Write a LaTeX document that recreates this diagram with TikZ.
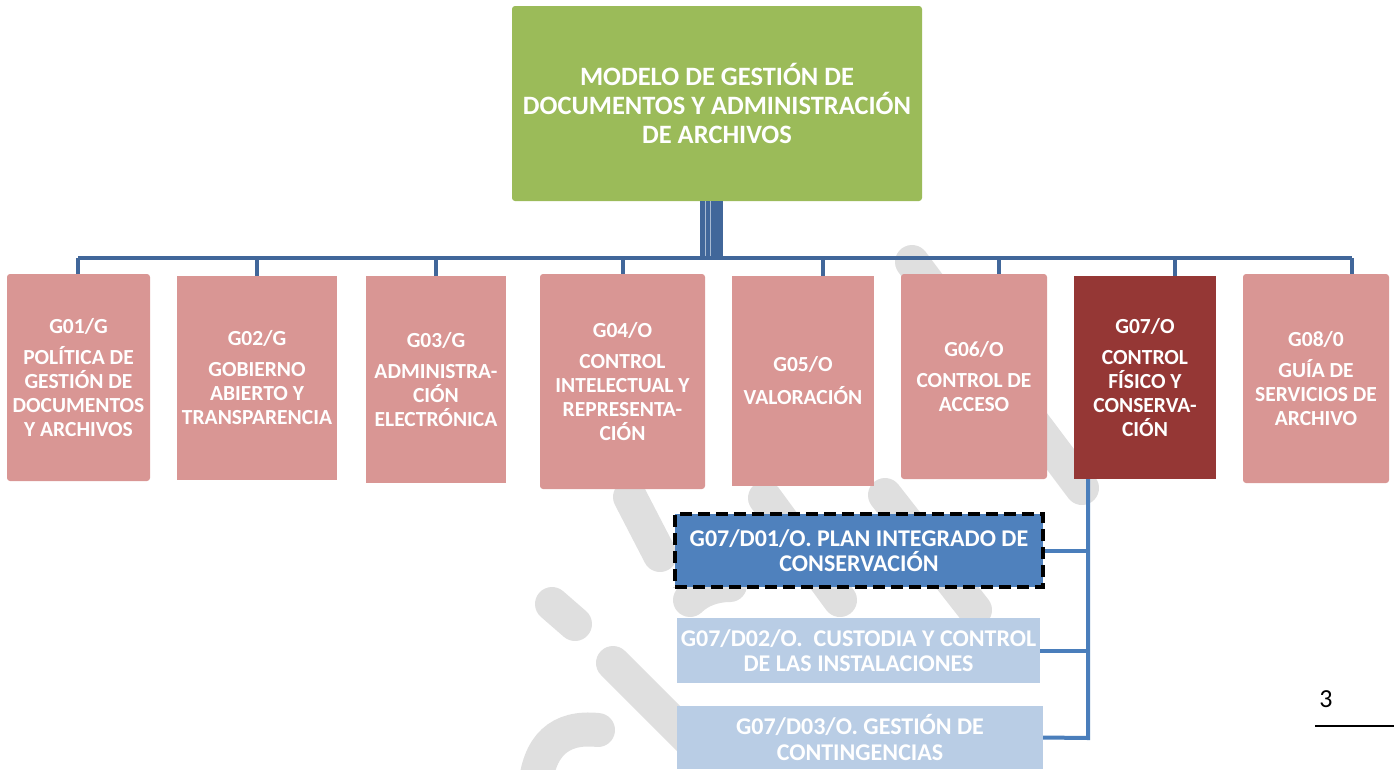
\documentclass[tikz,border=0pt]{standalone}
\usepackage{fontspec}
\setmainfont{Carlito}
\usepackage{tikz}
\usetikzlibrary{positioning}
\definecolor{pinkbox}{HTML}{D99694}
\definecolor{darkred}{HTML}{953735}
\definecolor{topgreen}{HTML}{9BBB59}
\definecolor{subblue}{HTML}{4F81BD}
\definecolor{paleblue}{HTML}{B9CDE5}
\definecolor{trunkblue}{HTML}{41679A}
\definecolor{branchblue}{HTML}{4A7EBB}
\definecolor{wmgray}{HTML}{DFDFDF}
\newcommand{\topfont}{\fontsize{26.5}{29}\selectfont\bfseries}
\newcommand{\gfont}{\fontsize{21.5}{24}\selectfont\bfseries}
\newcommand{\dfont}{\fontsize{24}{25.5}\selectfont\bfseries}
\tikzstyle{topbox} = [rectangle, rounded corners=3pt, fill=topgreen, text=white, font=\topfont, align=center, inner sep=0pt]
\tikzstyle{gbox} = [rectangle, fill=pinkbox, text=white, font=\gfont, align=center, inner sep=0pt]
\tikzstyle{gsel} = [rectangle, fill=darkred, text=white, font=\gfont, align=center, inner sep=0pt]
\tikzstyle{dsel} = [rectangle, fill=subblue, draw=black, line width=4pt, dash pattern=on 12pt off 6pt, text=white, font=\dfont, align=center, inner sep=0pt]
\tikzstyle{dbox} = [rectangle, fill=paleblue, text=white, font=\dfont, align=center, inner sep=0pt]
\tikzstyle{link} = [draw=trunkblue, line width=4pt]
\tikzstyle{sublink} = [draw=branchblue, line width=4pt]
\tikzstyle{wmstroke} = [draw=wmgray, line width=34pt, line cap=round]

\begin{document}
\begin{tikzpicture}[x=1pt, y=-1pt]
        \useasboundingbox (0,0) rectangle (1394,769);
        % watermark
        \draw [wmstroke] (912,262) -- (1082,488);
        \draw [wmstroke] (630,497) -- (660,555);
        \draw [wmstroke] (552,604) -- (575,624);
        \draw [wmstroke] (613,663) -- (700,750);
        \draw [wmstroke] (598,730) .. controls (560,726) and (538,745) .. (535,790);
        \draw [wmstroke] (690,600) .. controls (700,590) and (715,585) .. (730,585);
        \draw [wmstroke] (765,498) -- (840,600);
        \draw [wmstroke] (885,495) -- (975,610);

        \node (top) [topbox, minimum width=410pt, minimum height=195pt] at (717,103.5)
              {MODELO DE GESTIÓN DE\\DOCUMENTOS Y ADMINISTRACIÓN\\DE ARCHIVOS};

        \node (g01) [gbox, rounded corners=3pt, minimum width=143pt, minimum height=207pt] at (78.5,377.5)
              {G01/G\\[7pt]POLÍTICA DE\\GESTIÓN DE\\DOCUMENTOS\\Y ARCHIVOS};
        \node (g02) [gbox, minimum width=160pt, minimum height=204pt] at (257,378)
              {G02/G\\[7pt]GOBIERNO\\ABIERTO Y\\TRANSPARENCIA};
        \node (g03) [gbox, minimum width=140pt, minimum height=207pt] at (436,379.5)
              {G03/G\\[7pt]ADMINISTRA-\\CIÓN\\ELECTRÓNICA};
        \node (g04) [gbox, rounded corners=3pt, minimum width=165pt, minimum height=215pt] at (622.5,381.5)
              {G04/O\\[7pt]CONTROL\\INTELECTUAL Y\\REPRESENTA-\\CIÓN};
        \node (g05) [gbox, minimum width=142pt, minimum height=210pt] at (803,381)
              {G05/O\\[9pt]VALORACIÓN};
        \node (g06) [gbox, rounded corners=3pt, minimum width=146pt, minimum height=205pt] at (974,376.5)
              {G06/O\\[7pt]CONTROL DE\\ACCESO};
        \node (g07) [gsel, minimum width=142pt, minimum height=203pt] at (1145,377.5)
              {G07/O\\[7pt]CONTROL\\FÍSICO Y\\CONSERVA-\\CIÓN};
        \node (g08) [gbox, rounded corners=3pt, minimum width=146pt, minimum height=209pt] at (1316,378.5)
              {G08/0\\[7pt]GUÍA DE\\SERVICIOS DE\\ARCHIVO};

        \node (d01) [dsel, minimum width=368pt, minimum height=73pt] at (859,550.5)
              {G07/D01/O. PLAN INTEGRADO DE\\CONSERVACIÓN};
        \node (d02) [dbox, minimum width=363pt, minimum height=65pt] at (858.5,650.5)
              {G07/D02/O.\ \ CUSTODIA Y CONTROL\\DE LAS INSTALACIONES};
        \node (d03) [dbox, minimum width=366pt, minimum height=63pt] at (860,737.5)
              {G07/D03/O. GESTIÓN DE\\CONTINGENCIAS};

        % trunk and bar
        \coordinate (hub) at (711.5,258);
        \draw [draw=trunkblue, line width=23pt] (top.south -| hub) -- (hub);
        \draw [draw=trunkblue!45!white, line width=0.8pt] (705.7,201) -- (705.7,256);
        \draw [draw=trunkblue!45!white, line width=0.8pt] (710.7,201) -- (710.7,256);
        \coordinate (b1) at (78,258);
        \coordinate (b2) at (257,258);
        \coordinate (b3) at (436,258);
        \coordinate (b4) at (623,258);
        \coordinate (b5) at (823,258);
        \coordinate (b6) at (999,258);
        \coordinate (b7) at (1175,258);
        \coordinate (b8) at (1352,258);
        \draw [link] (b1) -- (b8);
        \foreach \i in {1,...,8}
            \draw [link] (b\i) -- (b\i |- g0\i.north);

        % G07 branch
        \coordinate (v) at (1088,738);
        \draw [sublink] (g07.south -| v) -- (v) -- (d03.east);
        \draw [sublink] (d01.east) -- (d01.east -| v);
        \draw [sublink] (d02.east) -- (d02.east -| v);

        \node (pagenum) [font=\fontsize{26}{30}\selectfont] at (1326,699) {3};
        \coordinate (rule) at (1394,726);
        \draw [line width=2pt] (1315,726) -- (rule);
\end{tikzpicture}
\end{document}
